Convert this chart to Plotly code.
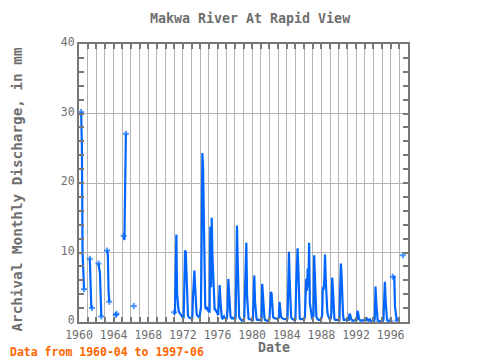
import plotly.graph_objects as go

# Monthly archival discharge (mm), Jan..Dec for each year; None = no data
v1960 = [None, None, None, 30.2, 25.5, 9.8, 6.5, 4.7, None, None, None, None]
v1961 = [None, None, None, 9.1, 3.8, 2.4, 2.0, None, None, None, None, None]
v1962 = [None, None, None, 8.4, 7.8, 7.1, 3.9, 0.8, None, None, None, None]
v1963 = [None, None, None, 10.3, 9.7, 4.4, 2.9, None, None, None, None, None]
v1964 = [None, None, None, 1.0, 1.2, None, None, None, None, None, None, None]
v1965 = [None, None, 12.4, 11.8, 19.5, 27.1, None, None, None, None, None, None]
v1966 = [None, None, None, None, 2.3, None, None, None, None, None, None, None]
v1967 = [None] * 12
v1968 = [None] * 12
v1969 = [None] * 12
v1970 = [None] * 12
v1971 = [1.4, 1.2, 7.0, 12.6, 4.1, 2.4, 1.7, 1.4, 1.2, 1.0, 0.8, 0.7]
v1972 = [0.6, 0.5, 5.8, 10.3, 10.1, 6.7, 1.5, 1.0, 0.7, 0.6, 0.5, 0.5]
v1973 = [0.5, 0.5, 3.6, 6.7, 7.4, 5.0, 2.0, 1.2, 0.9, 0.8, 0.7, 0.6]
v1974 = [1.5, 2.0, 11.5, 24.3, 22.2, 16.5, 6.5, 2.2, 1.8, 2.2, 1.8, 1.5]
v1975 = [1.5, 1.5, 13.7, 5.0, 15.0, 9.6, 6.0, 2.0, 1.8, 1.8, 1.6, 1.5]
v1976 = [1.2, 1.0, 3.1, 5.3, 3.1, 1.0, 0.6, 0.5, 0.7, 0.8, 0.6, 0.5]
v1977 = [0.5, 0.5, 1.9, 6.2, 3.6, 1.5, 0.8, 0.6, 0.5, 0.6, 0.5, 0.4]
v1978 = [0.4, 0.5, 11.5, 13.9, 8.9, 4.1, 0.8, 0.5, 0.3, 0.3, 0.2, 0.2]
v1979 = [0.3, 0.5, 5.0, 8.2, 11.4, 3.8, 1.0, 0.5, 0.4, 0.4, 0.3, 0.3]
v1980 = [0.3, 0.3, 3.6, 6.7, 3.0, 0.8, 0.5, 0.3, 0.3, 0.3, 0.2, 0.2]
v1981 = [0.2, 0.3, 5.5, 3.6, 1.5, 0.6, 0.3, 0.2, 0.2, 0.2, 0.2, 0.2]
v1982 = [0.5, 4.0, 4.3, 4.1, 1.0, 0.8, 0.6, 0.5, 0.5, 0.5, 0.4, 0.4]
v1983 = [0.5, 0.6, 2.9, 1.5, 0.8, 0.6, 0.5, 0.5, 0.4, 0.4, 0.4, 0.4]
v1984 = [0.4, 0.5, 4.8, 10.1, 6.2, 1.0, 0.7, 0.5, 0.4, 0.4, 0.3, 0.3]
v1985 = [0.4, 5.3, 10.4, 10.6, 7.9, 1.0, 0.5, 0.4, 0.4, 0.4, 0.3, 0.3]
v1986 = [0.4, 0.6, 3.6, 6.2, 4.5, 7.7, 5.0, 11.4, 2.7, 1.7, 0.8, 0.5]
v1987 = [0.5, 1.0, 9.6, 6.7, 2.6, 0.9, 0.5, 0.3, 0.3, 0.3, 0.3, 0.3]
v1988 = [0.5, 1.0, 5.0, 4.6, 6.0, 9.7, 6.2, 3.0, 1.7, 1.0, 0.6, 0.5]
v1989 = [0.4, 0.5, 1.5, 6.4, 4.8, 1.5, 0.5, 0.3, 0.3, 0.3, 0.2, 0.2]
v1990 = [0.3, 0.3, 4.6, 8.4, 6.7, 2.6, 1.0, 0.3, 0.3, 0.2, 0.2, 0.2]
v1991 = [0.2, 0.2, 0.3, 1.2, 1.0, 0.5, 0.3, 0.2, 0.2, 0.2, 0.2, 0.2]
v1992 = [0.2, 0.3, 1.6, 1.3, 0.5, 0.3, 0.2, 0.2, 0.2, 0.2, 0.2, 0.2]
v1993 = [0.2, 0.2, 0.3, 0.5, 0.3, 0.2, 0.2, 0.5, 0.2, 0.2, 0.1, 0.1]
v1994 = [0.1, 0.1, 0.5, 5.1, 2.9, 0.5, 0.2, 0.2, 0.1, 0.1, 0.1, 0.1]
v1995 = [0.1, 0.1, 0.3, 2.9, 5.8, 3.1, 0.8, 0.3, 0.2, 0.2, 0.1, 0.1]
v1996 = [None, None, None, 6.5, 6.5, 6.5, 2.2, 1.0, 0.5, 0.2, None, None]
v1997 = [None, None, None, None, None, 9.6, None, None, None, None, None, None]

years = list(range(1960, 1998))
yearly = [v1960, v1961, v1962, v1963, v1964, v1965, v1966, v1967, v1968, v1969,
          v1970, v1971, v1972, v1973, v1974, v1975, v1976, v1977, v1978, v1979,
          v1980, v1981, v1982, v1983, v1984, v1985, v1986, v1987, v1988, v1989,
          v1990, v1991, v1992, v1993, v1994, v1995, v1996, v1997]

dates, values = [], []
for yr, vals in zip(years, yearly):
    for m, v in enumerate(vals):
        dates.append(f"{yr}-{m + 1:02d}-01")
        values.append(v)

# markers at ends of continuous segments
sizes = []
for i, v in enumerate(values):
    if v is None:
        sizes.append(0)
        continue
    prev_missing = i == 0 or values[i - 1] is None
    next_missing = i == len(values) - 1 or values[i + 1] is None
    sizes.append(5 if (prev_missing or next_missing) else 0)

BLUE = "#0066ff"
TXT = "#6e6e6e"
GRID = "#b4b4b4"
FRAME = "#777777"
FONT = "DejaVu Sans Mono"

fig = go.Figure()
fig.add_trace(go.Scatter(
    x=dates, y=values, mode="lines+markers",
    line=dict(color=BLUE, width=2.2),
    marker=dict(symbol="cross", size=sizes, color=BLUE, line=dict(width=0)),
    connectgaps=False, showlegend=False, hoverinfo="x+y",
))

# page has an 8px body margin: figure is 472x352 so it fills the 480x360 window
fig.update_layout(
    width=472, height=352,
    margin=dict(l=71, r=72, t=36, b=38),
    paper_bgcolor="white", plot_bgcolor="white",
    font=dict(family=FONT, color=TXT, size=11),
    title=dict(text="<b>Makwa River At Rapid View</b>", x=0.52, xanchor="center",
               xref="paper", y=0.972, yref="container", yanchor="middle",
               font=dict(family=FONT, size=13.3, color=TXT)),
)

fig.update_xaxes(
    type="date", range=["1960-01-01", "1998-01-01"],
    tick0="1960-01-01", dtick="M48", tickformat="%Y",
    showgrid=True, gridcolor=GRID, gridwidth=1,
    ticks="inside", ticklen=5, tickwidth=2, tickcolor=FRAME,
    showline=True, linecolor=FRAME, linewidth=2, mirror="allticks",
    tickfont=dict(family=FONT, size=11.5, color=TXT), ticklabelstandoff=1,
    minor=dict(dtick="M12", showgrid=True, gridcolor=GRID, gridwidth=1,
               ticks="inside", ticklen=5, tickwidth=2, tickcolor=FRAME),
    zeroline=False,
)
fig.update_yaxes(
    range=[0, 40], dtick=10, tick0=0,
    showgrid=True, gridcolor=GRID, gridwidth=1,
    ticks="inside", ticklen=5, tickwidth=2, tickcolor=FRAME,
    showline=True, linecolor=FRAME, linewidth=2, mirror="allticks",
    tickfont=dict(family=FONT, size=11.5, color=TXT), ticklabelshift=-2,
    minor=dict(dtick=2, showgrid=False, ticks="inside", ticklen=5,
               tickwidth=2, tickcolor=FRAME),
    zeroline=False,
)

fig.add_annotation(text="<b>Archival Monthly Discharge, in mm</b>", xref="paper", yref="paper",
                   x=-0.188, y=0.477, textangle=-90, showarrow=False,
                   xanchor="center", yanchor="middle",
                   font=dict(family=FONT, size=14.3, color=TXT))
fig.add_annotation(text="<b>Date</b>", xref="paper", yref="paper",
                   x=0.593, y=-0.092, showarrow=False, xanchor="center", yanchor="middle",
                   font=dict(family=FONT, size=13.3, color=TXT))
fig.add_annotation(text="<b>Data from 1960-04 to 1997-06</b>", xref="paper", yref="paper",
                   x=-0.216, y=-0.108, showarrow=False, xanchor="left", yanchor="middle",
                   font=dict(family=FONT, size=11.5, color="#ff6600"))

fig.write_html("out.html")
